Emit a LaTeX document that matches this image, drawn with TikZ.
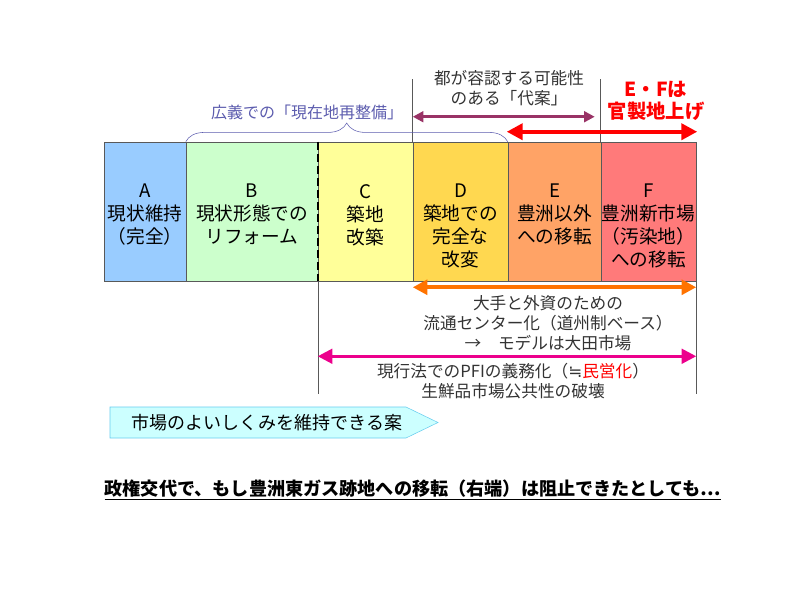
\documentclass[tikz,border=0pt]{standalone}
\usepackage{fontspec}
\newfontfamily\jp{Noto Sans CJK JP}
\newfontfamily\symfont{DejaVu Sans}
\usetikzlibrary{arrows.meta,positioning,calc,decorations.pathreplacing}
\definecolor{colA}{HTML}{99CCFF}
\definecolor{colB}{HTML}{CCFFCC}
\definecolor{colC}{HTML}{FFFF99}
\definecolor{colD}{HTML}{FFD850}
\definecolor{colE}{HTML}{FFA366}
\definecolor{colF}{HTML}{FF7A7A}
\definecolor{plum}{HTML}{993366}
\definecolor{slate}{HTML}{5C5CAE}
\definecolor{planfill}{HTML}{CCFFFF}
\definecolor{planline}{HTML}{66CCEE}

\begin{document}
\begin{tikzpicture}[x=0.75pt,y=-0.75pt,
  colbox/.style={draw=gray!70!black,inner sep=0pt,minimum height=104.25pt},
  lbl/.style={font=\jp\fontsize{14}{17.25}\selectfont,align=center,anchor=north,inner sep=0pt},
  note/.style={font=\jp\fontsize{12.5}{15.2}\selectfont,text=black!80,align=center,inner sep=0pt},
  guide/.style={gray!70!black,line width=0.8pt},
  dbl/.style={{Triangle[length=#1,width=#1]}-{Triangle[length=#1,width=#1]}}]
\useasboundingbox (0,0) rectangle (800,600);
% the six options
\foreach \n/\xa/\xb/\c/\t in {A/104/186/colA/{A\\現状維持\\（完全）},B/186/318/colB/{B\\現状形態での\\リフォーム},
  C/318/413/colC/{C\\築地\\改築},D/413/508/colD/{D\\築地での\\完全な\\改変},
  E/508/601/colE/{E\\豊洲以外\\への移転},F/601/696/colF/{F\\豊洲新市場\\（汚染地）\\への移転}}{
  \node[colbox,fill=\c,minimum width={(\xb-\xa)*0.75pt}] (\n) at ({(\xa+\xb)/2},211.5) {};
  \node[lbl] (\n-lbl) at ({(\xa+\xb)/2},184) {\t};}
\draw[line width=1.6pt,dash pattern=on 6pt off 3pt] (B.north east) -- (B.south east);
% guide lines
\draw[guide] (D.north west) -- ++(0,-63) coordinate (dtop);
\draw[guide] (F.north west) -- ++(0,-63) coordinate (ftop);
\draw[guide] (B.south east) -- ++(0,113) coordinate (cbot);
\draw[guide] (F.south east) -- ++(0,113) coordinate (fbot);
% upper part
\draw[slate,decorate,decoration={brace,amplitude=14pt}] (B.north west) -- (E.north west);
\node[note,text=slate,font=\jp\fontsize{12}{14}\selectfont] (wide) at (307,112) {広義での「現在地再整備」};
\node[note] (tokyo) at (509,88) {都が容認する可能性\\のある「代案」};
\draw[dbl=8pt,line width=2pt,plum] ($(D.north west)+(0,-25)$) -- ($(F.north west)+(-6,-25)$);
\node[note,text=red,font=\jp\bfseries\fontsize{14.5}{16.5}\selectfont] (ef) at (656,101) {E・Fは\\官製地上げ};
\draw[dbl=12pt,line width=3pt,red] ($(E.north west)+(-1,-10)$) -- ($(F.north east)+(1,-10)$);
% lower part
\draw[dbl=11pt,line width=2.8pt,orange!90!red] ($(D.south west)+(0,6)$) -- ($(F.south east)+(0,6)$);
\node[note] (big) at (548,323) {大手と外資のための\\流通センター化（道州制ベース）\\→　モデルは大田市場};
\draw[dbl=11pt,line width=2.2pt,magenta] ($(C.south west)+(0,75)$) -- ($(F.south east)+(0,75)$);
\node[note] (pfi) at (513,381) {現行法でのPFIの義務化（{\symfont ≒}{\color{red}民営化}）\\生鮮品市場公共性の破壊};
% good plans
\draw[planline,fill=planfill] (110,407) -- (406,407) -- (438,422.5) -- (406,438) -- (110,438) -- cycle;
\node[note,text=black,font=\jp\fontsize{13.5}{16}\selectfont] (plan) at (267,422.5) {市場のよいしくみを維持できる案};
\node[note,text=black,font=\jp\bfseries\fontsize{13.6}{16}\selectfont] (warn) at (413,490) {\underline{政権交代で、もし豊洲東ガス跡地への移転（右端）は阻止できたとしても…}};
\end{tikzpicture}
\end{document}
